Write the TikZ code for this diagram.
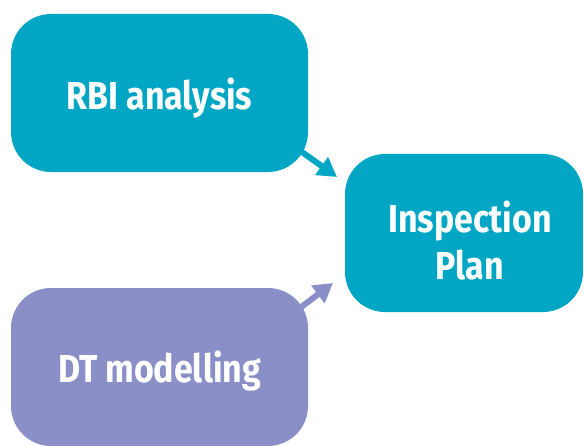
\documentclass[tikz,border=0pt]{standalone}
\usepackage{fontspec}
\setmainfont{Fira Sans}[FakeStretch=0.87]
\usetikzlibrary{arrows.meta}
\definecolor{teal}{HTML}{00A6C4}
\definecolor{lilac}{HTML}{8B8FC7}
\newcommand{\boxtext}[3]{\raisebox{#1}[0pt][0pt]{\parbox[b]{#2}{\centering\fontsize{39}{47}\selectfont\bfseries #3}}}
\tikzset{
  box/.style={rounded corners=40pt, minimum width=297pt, minimum height=158pt, inner sep=0pt, text=white},
  conn/.style={line width=6pt, -{Triangle[width=21pt,length=19pt]}},
}
\begin{document}
\begin{tikzpicture}[x=1pt,y=1pt]
\useasboundingbox (0,0) rectangle (585,445);
\node[box, fill=teal] (rbi) at (159.5,352) {\boxtext{-16pt}{240pt}{RBI analysis}};
\node[box, fill=teal, minimum width=238pt] (plan) at (464,212) {\hspace*{12pt}\boxtext{-46pt}{190pt}{Inspection\\Plan}};
\node[box, fill=lilac] (dt) at (159.5,78) {\boxtext{-15pt}{240pt}{DT modelling}};
\coordinate (tip1) at (337,268);
\coordinate (tip2) at (333,162);
\draw[conn, teal] ([xshift=-6pt,yshift=20pt]rbi.south east) -- (tip1);
\draw[conn, lilac] ([xshift=-8pt,yshift=-20pt]dt.north east) -- (tip2);
\end{tikzpicture}
\end{document}
